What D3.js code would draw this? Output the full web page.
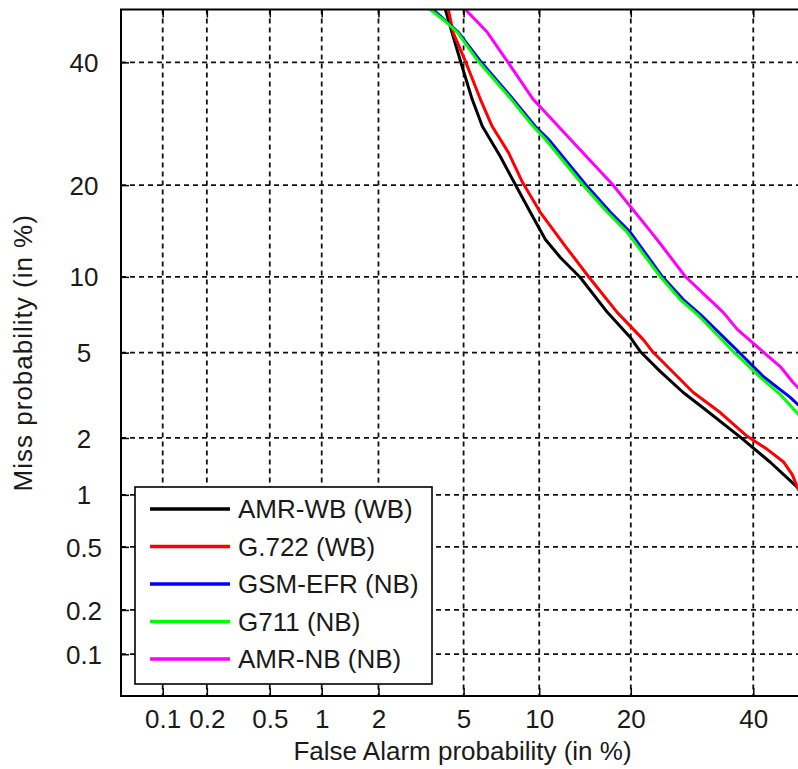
<!DOCTYPE html>
<html>
<head>
<meta charset="utf-8">
<script src="https://cdn.jsdelivr.net/npm/d3@7"></script>
<style>
  html, body { margin: 0; padding: 0; background: #fff; }
  svg { display: block; }
  text { font-family: Arial, "Liberation Sans", sans-serif; fill: #1a1a1a; }
</style>
</head>
<body>
<svg id="chart" width="798" height="769"></svg>
<script>
// ---------- DATA (percentages) ----------
const seriesNames = ["AMR-WB (WB)", "G.722 (WB)", "GSM-EFR (NB)", "G711 (NB)", "AMR-NB (NB)"];
const seriesColors = ["#000000", "#ff0000", "#0000ff", "#00ff00", "#ff00ff"];

const amrWbFA   = [4.16, 4.45, 4.85, 5.44, 6.00, 7.10, 8.12, 9.27, 10.53, 11.90, 13.91, 17.00, 19.94, 21.29, 24.18, 27.77, 31.42, 37.61, 43.19, 48.52, 49.6];
const amrWbMiss = [50.0, 45.65, 40.2, 33.34, 28.78, 24.06, 20.11, 16.55, 13.51, 11.73, 9.95, 7.33, 5.80, 5.06, 4.14, 3.32, 2.76, 2.02, 1.50, 1.09, 1.02];

const g722FA    = [4.29, 4.50, 5.09, 5.89, 6.58, 7.64, 8.66, 10.09, 12.39, 14.80, 18.22, 21.72, 23.03, 29.42, 34.02, 38.89, 42.62, 45.66, 47.37, 48.52, 49.6];
const g722Miss  = [50.0, 45.65, 40.2, 33.34, 28.78, 24.67, 20.37, 16.55, 12.82, 10.03, 7.33, 5.68, 5.06, 3.32, 2.67, 2.04, 1.75, 1.51, 1.29, 1.07, 1.02];

const gsmEfrFA   = [3.66, 4.75, 5.89, 7.98, 9.66, 10.80, 14.46, 17.37, 19.94, 24.49, 27.77, 30.57, 36.89, 41.86, 46.99, 48.52, 49.6];
const gsmEfrMiss = [50.0, 45.65, 40.2, 33.34, 28.78, 26.69, 20.11, 16.55, 14.27, 10.03, 8.22, 7.20, 5.16, 3.93, 3.15, 2.90, 2.82];

const g711FA    = [3.55, 4.16, 4.70, 5.77, 7.84, 9.50, 10.53, 14.13, 17.00, 19.54, 24.18, 27.29, 30.07, 36.35, 41.31, 45.08, 48.52, 49.6];
const g711Miss  = [50.0, 47.75, 45.65, 40.2, 33.34, 28.78, 26.69, 20.11, 16.55, 14.27, 10.03, 8.22, 7.20, 5.06, 3.89, 3.25, 2.62, 2.50];

const amrNbFA   = [5.09, 6.29, 7.57, 9.50, 11.70, 12.88, 17.61, 22.88, 24.49, 28.10, 34.55, 37.07, 41.31, 45.08, 47.56, 48.52, 49.6];
const amrNbMiss = [50.0, 45.65, 40.2, 33.34, 28.78, 26.69, 20.11, 14.27, 12.82, 10.03, 7.33, 6.26, 5.16, 4.35, 3.68, 3.49, 3.35];

const xTickValues = [0.1, 0.2, 0.5, 1, 2, 5, 10, 20, 40];
const xTickLabels = ["0.1", "0.2", "0.5", "1", "2", "5", "10", "20", "40"];
const yTickValues = [0.1, 0.2, 0.5, 1, 2, 5, 10, 20, 40];
const yTickLabels = ["0.1", "0.2", "0.5", "1", "2", "5", "10", "20", "40"];
const axisMinPct = 0.05, axisMaxPct = 50;
const xTitle = "False Alarm probability (in %)";
const yTitle = "Miss probability (in %)";

// ---------- helpers ----------
function probit(p) {
  const a=[-3.969683028665376e+01,2.209460984245205e+02,-2.759285104469687e+02,1.383577518672690e+02,-3.066479806614716e+01,2.506628277459239e+00];
  const b=[-5.447609879822406e+01,1.615858368580409e+02,-1.556989798598866e+02,6.680131188771972e+01,-1.328068155288572e+01];
  const c=[-7.784894002430293e-03,-3.223964580411365e-01,-2.400758277161838e+00,-2.549732539343734e+00,4.374664141464968e+00,2.938163982698783e+00];
  const d=[7.784695709041462e-03,3.224671290700398e-01,2.445134137142996e+00,3.754408661907416e+00];
  const pl=0.02425, ph=1-pl; let q,r;
  if (p < pl) { q=Math.sqrt(-2*Math.log(p)); return (((((c[0]*q+c[1])*q+c[2])*q+c[3])*q+c[4])*q+c[5])/((((d[0]*q+d[1])*q+d[2])*q+d[3])*q+1); }
  if (p <= ph) { q=p-0.5; r=q*q; return (((((a[0]*r+a[1])*r+a[2])*r+a[3])*r+a[4])*r+a[5])*q/(((((b[0]*r+b[1])*r+b[2])*r+b[3])*r+b[4])*r+1); }
  q=Math.sqrt(-2*Math.log(1-p)); return -(((((c[0]*q+c[1])*q+c[2])*q+c[3])*q+c[4])*q+c[5])/((((d[0]*q+d[1])*q+d[2])*q+d[3])*q+1);
}
const pz = v => probit(v / 100);

// ---------- layout ----------
const L = 121, R = 806, T = 9.5, B = 696;
const svg = d3.select("#chart");

const x = d3.scaleLinear().domain([pz(axisMinPct), pz(axisMaxPct)]).range([L, R]);
const y = d3.scaleLinear().domain([pz(axisMinPct), pz(axisMaxPct)]).range([B, T]);

svg.append("defs").append("clipPath").attr("id", "plotclip")
  .append("rect").attr("x", L).attr("y", T).attr("width", R - L).attr("height", B - T);

// grid
const grid = svg.append("g").attr("stroke", "#111").attr("stroke-width", 1.8).attr("stroke-dasharray", "5,4");
grid.selectAll(".gx").data(xTickValues).join("line")
  .attr("x1", d => x(pz(d))).attr("x2", d => x(pz(d))).attr("y1", T).attr("y2", B);
grid.selectAll(".gy").data(yTickValues).join("line")
  .attr("y1", d => y(pz(d))).attr("y2", d => y(pz(d))).attr("x1", L).attr("x2", R);

// axes (inner ticks)
const fontSize = 26;
const xAxis = d3.axisBottom(x).tickValues(xTickValues.map(pz))
  .tickFormat((d, i) => xTickLabels[i]).tickSizeInner(-8).tickSizeOuter(0).tickPadding(12);
const gx = svg.append("g").attr("transform", `translate(0,${B})`).call(xAxis);
gx.select(".domain").remove();
gx.selectAll(".tick line").attr("stroke", "#000").attr("stroke-width", 1.5);
gx.selectAll(".tick text").attr("font-size", fontSize).attr("font-family", "Arial, 'Liberation Sans', sans-serif")
  .attr("fill", "#1a1a1a").attr("y", 32).attr("dy", 0);

const xTop = d3.axisTop(x).tickValues(xTickValues.map(pz)).tickFormat("").tickSizeInner(-8).tickSizeOuter(0);
const gxt = svg.append("g").attr("transform", `translate(0,${T})`).call(xTop);
gxt.select(".domain").remove();
gxt.selectAll(".tick line").attr("stroke", "#000").attr("stroke-width", 1.5);

const yAxis = d3.axisLeft(y).tickValues(yTickValues.map(pz))
  .tickFormat((d, i) => yTickLabels[i]).tickSizeInner(-8).tickSizeOuter(0).tickPadding(0);
const gy = svg.append("g").attr("transform", `translate(${L},0)`).call(yAxis);
gy.select(".domain").remove();
gy.selectAll(".tick line").attr("stroke", "#000").attr("stroke-width", 1.5);
gy.selectAll(".tick text").attr("font-size", fontSize).attr("font-family", "Arial, 'Liberation Sans', sans-serif")
  .attr("fill", "#1a1a1a").attr("text-anchor", "middle").attr("x", 84 - L).attr("dy", "0.35em");

const yRight = d3.axisRight(y).tickValues(yTickValues.map(pz)).tickFormat("").tickSizeInner(-8).tickSizeOuter(0);
const gyr = svg.append("g").attr("transform", `translate(${R},0)`).call(yRight);
gyr.select(".domain").remove();
gyr.selectAll(".tick line").attr("stroke", "#000").attr("stroke-width", 1.5);

// curves
const series = [
  { fa: amrWbFA, miss: amrWbMiss },
  { fa: g722FA, miss: g722Miss },
  { fa: gsmEfrFA, miss: gsmEfrMiss },
  { fa: g711FA, miss: g711Miss },
  { fa: amrNbFA, miss: amrNbMiss }
].map((s, i) => ({ name: seriesNames[i], color: seriesColors[i], pts: s.fa.map((f, j) => [f, s.miss[j]]) }));

const line = d3.line().x(d => x(pz(d[0]))).y(d => y(pz(d[1])));
svg.append("g").attr("clip-path", "url(#plotclip)")
  .selectAll("path").data(series).join("path")
  .attr("d", d => line(d.pts)).attr("fill", "none")
  .attr("stroke", d => d.color).attr("stroke-width", 3)
  .attr("stroke-linejoin", "round").attr("stroke-linecap", "round");

// frame
svg.append("rect").attr("x", L).attr("y", T).attr("width", R - L).attr("height", B - T)
  .attr("fill", "none").attr("stroke", "#000").attr("stroke-width", 2);

// legend
const lg = svg.append("g");
lg.append("rect").attr("x", 135).attr("y", 487).attr("width", 297).attr("height", 197)
  .attr("fill", "#fff").attr("stroke", "#000").attr("stroke-width", 1.6);
const rows = lg.selectAll(".row").data(series).join("g")
  .attr("transform", (d, i) => `translate(0,${509 + i * 37.5})`);
rows.append("line").attr("x1", 150).attr("x2", 230).attr("y1", 0).attr("y2", 0)
  .attr("stroke", d => d.color).attr("stroke-width", 3.5);
rows.append("text").attr("x", 238).attr("y", 0).attr("dy", "0.35em")
  .attr("font-size", fontSize).text(d => d.name);

// titles
svg.append("text").attr("x", (L + R) / 2 - 1).attr("y", 760).attr("text-anchor", "middle")
  .attr("font-size", fontSize).text(xTitle);
svg.append("text").attr("transform", `translate(32,${(T + B) / 2}) rotate(-90)`)
  .attr("text-anchor", "middle").attr("font-size", fontSize).attr("letter-spacing", "1px").text(yTitle);
</script>
</body>
</html>
